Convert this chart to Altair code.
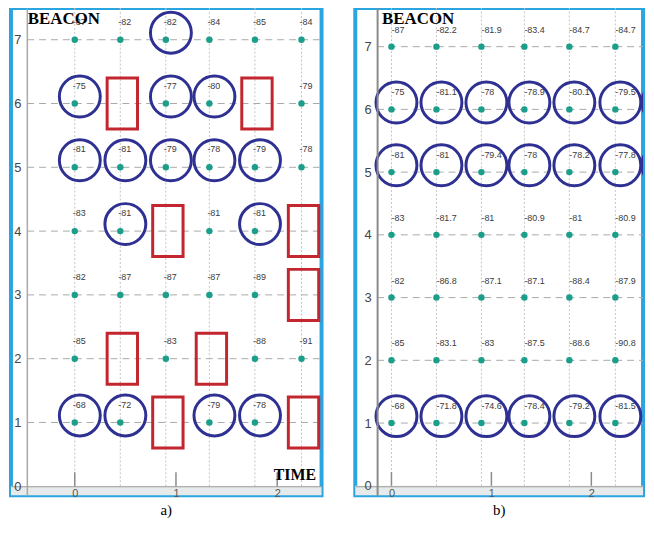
import altair as alt
import pandas as pd

beacons = [7, 6, 5, 4, 3, 2, 1]
time_pos = [0, 0.45, 0.9, 1.33, 1.78, 2.24]
hidden_time = 2.66
x_ticks = [0, 1, 2]
y_ticks = [0, 1, 2, 3, 4, 5, 6, 7]

a_rssi = [
    [-87, -82, -82, -84, -85, -84],
    [-75, None, -77, -80, None, -79],
    [-81, -81, -79, -78, -79, -78],
    [-83, -81, None, -81, -81, None],
    [-82, -87, -87, -87, -89, None],
    [-85, None, -83, None, -88, -91],
    [-68, -72, None, -79, -78, None],
]
a_circled = [(7, 2), (6, 0), (6, 2), (6, 3), (5, 0), (5, 1), (5, 2), (5, 3),
             (5, 4), (4, 1), (4, 4), (1, 0), (1, 1), (1, 3), (1, 4)]
a_boxed = [(6, 1), (6, 4), (4, 2), (4, 5), (3, 5), (2, 1), (2, 3), (1, 2), (1, 5)]

b_rssi = [
    [-87, -82.2, -81.9, -83.4, -84.7, -84.7],
    [-75, -81.1, -78, -78.9, -80.1, -79.5],
    [-81, -81, -79.4, -78, -78.2, -77.8],
    [-83, -81.7, -81, -80.9, -81, -80.9],
    [-82, -86.8, -87.1, -87.1, -88.4, -87.9],
    [-85, -83.1, -83, -87.5, -88.6, -90.8],
    [-68, -71.8, -74.6, -78.4, -79.2, -81.5],
]
b_circled = ([(6, c) for c in range(7)] + [(5, c) for c in range(7)]
             + [(1, c) for c in range(6)])
b_boxed = []

TEAL = "#1b9e8a"
NAVY = "#2e3192"
RED = "#c3262e"
FRAME = "#2ba5df"


def col_x(c):
    return time_pos[c] if c < len(time_pos) else hidden_time


def panel(rssi, circled, boxed, xdom, ydom, w, h, x_off, y_off, axis_x,
          beacon_px, time_title, ydomain_color, ydomain_width, label_dx,
          label_dy, caption):
    xs = alt.Scale(domain=xdom, nice=False, zero=False)
    ys = alt.Scale(domain=ydom, nice=False, zero=False)
    xaxis = alt.Axis(values=x_ticks, offset=x_off, grid=False, ticks=False,
                     domainColor="#9a9a9a", domainWidth=1.2, labelColor="#555555",
                     labelFontSize=11, labelFont="Liberation Sans", labelPadding=1,
                     title=time_title, titleFont="Liberation Serif",
                     titleFontSize=16, titleFontWeight="bold", titleColor="black",
                     titleAlign="right", titleBaseline="alphabetic",
                     titleX=307, titleY=-7, zindex=1)
    yaxis = alt.Axis(values=y_ticks, offset=y_off, grid=False, ticks=False,
                     domainColor=ydomain_color, domainWidth=ydomain_width,
                     labelColor="#444444", labelFontSize=13,
                     labelFont="Liberation Sans", labelPadding=6,
                     title="", zindex=1)

    def X(f):
        return alt.X(f, type="quantitative", scale=xs, axis=xaxis)

    def Y(f):
        return alt.Y(f, type="quantitative", scale=ys, axis=yaxis)

    pts = []
    for b, row in zip(beacons, rssi):
        for c, v in enumerate(row):
            if v is not None:
                pts.append({"time": time_pos[c], "beacon": b, "label": f"{v:g}"})
    pts = pd.DataFrame(pts)

    circ = pd.DataFrame([{"time": col_x(c), "beacon": b} for b, c in circled])
    box = pd.DataFrame([{"time": col_x(c), "beacon": b} for b, c in boxed])

    strip = pd.DataFrame([{"x0": xdom[0], "x1": xdom[1], "y0": ydom[0], "y1": 0}])
    vgrid = pd.DataFrame({"time": time_pos, "y0": 0.0, "y1": ydom[1]})
    hgrid = pd.DataFrame({"beacon": beacons, "x0": axis_x, "x1": xdom[1]})
    ticks = pd.DataFrame({"time": x_ticks, "y0": 0.0, "y1": 0.22})
    ylabel = pd.DataFrame({"t": ["BEACON"]})

    layers = [
        alt.Chart(strip).mark_rect(color="#e7eaea").encode(
            x=X("x0"), x2="x1", y=Y("y0"), y2="y1"),
        alt.Chart(vgrid).mark_rule(color="#c4c4c4", strokeDash=[2, 2],
                                   strokeWidth=1).encode(
            x=X("time"), y=Y("y0"), y2="y1"),
        alt.Chart(hgrid).mark_rule(color="#a9a9a9", strokeDash=[7, 5],
                                   strokeWidth=1).encode(
            x=X("x0"), x2="x1", y=Y("beacon")),
        alt.Chart(ticks).mark_rule(color="#8c8c8c", strokeWidth=1.5).encode(
            x=X("time"), y=Y("y0"), y2="y1"),
        alt.Chart(pts).mark_circle(size=42, color=TEAL, opacity=1).encode(
            x=X("time"), y=Y("beacon")),
        alt.Chart(pts).mark_text(align="left", baseline="middle", dx=label_dx,
                                 dy=label_dy, fontSize=9,
                                 font="Liberation Sans", color="#3a3a3a").encode(
            x=X("time"), y=Y("beacon"), text="label:N"),
    ]
    if len(box):
        layers.append(
            alt.Chart(box).transform_calculate(
                x0="datum.time - 0.13", x1="datum.time + 0.17",
                y0="datum.beacon - 0.4", y1="datum.beacon + 0.4",
            ).mark_rect(fillOpacity=0, stroke=RED, strokeWidth=3).encode(
                x=X("x0"), x2="x1", y=Y("y0"), y2="y1"))
    layers.append(
        alt.Chart(circ).transform_calculate(
            cx="datum.time + 0.05", cy="datum.beacon + 0.11",
        ).mark_point(shape="circle", filled=False, size=1700, strokeWidth=3,
                     color=NAVY, opacity=1, clip=True).encode(
            x=X("cx"), y=Y("cy")))
    layers.append(
        alt.Chart(ylabel).mark_text(align="left", baseline="alphabetic",
                                    font="Liberation Serif", fontSize=17,
                                    fontWeight="bold", color="black").encode(
            x=alt.value(beacon_px), y=alt.value(16), text="t:N"))

    return alt.layer(*layers).properties(
        width=w, height=h,
        title=alt.TitleParams(text=caption, orient="bottom", anchor="middle",
                              font="Liberation Serif", fontSize=15,
                              fontWeight="normal", color="black", offset=5),
    )


pa = panel(a_rssi, a_circled, a_boxed, [-0.630, 2.438], [-0.140, 7.497],
           313, 491, -9, -16, -0.47, 17, "TIME", "#a8a8a8", 1.5, -2, -18, "a)")
pb = panel(b_rssi, b_circled, b_boxed, [-0.362, 2.517], [-0.150, 7.616],
           290, 491, -9, -22, -0.144, 27, "", "#8a8a8a", 2, 0, -17, "b)")

chart = alt.hconcat(pa, pb, spacing=29).properties(
    padding={"left": 1, "top": -5, "right": 0, "bottom": 0},
    background="white",
).configure_view(stroke=FRAME, strokeWidth=4, fill="white")

chart.save("out.html", embed_options={"renderer": "svg", "actions": False})
